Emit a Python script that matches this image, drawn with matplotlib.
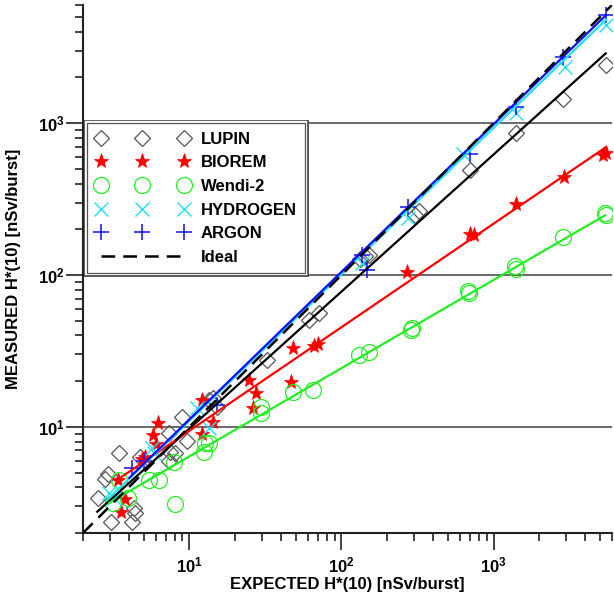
import numpy as np
import matplotlib
matplotlib.use("Agg")
import matplotlib.pyplot as plt
from matplotlib.lines import Line2D
from matplotlib.ticker import LogLocator, FuncFormatter, NullFormatter
import matplotlib.patheffects as pe

plt.rcParams['font.family'] = ['Liberation Sans', 'DejaVu Sans']
plt.rcParams['font.weight'] = 'bold'
plt.rcParams['mathtext.fontset'] = 'custom'
plt.rcParams['mathtext.rm'] = 'Liberation Sans:bold'
plt.rcParams['mathtext.bf'] = 'Liberation Sans:bold'
plt.rcParams['mathtext.it'] = 'Liberation Sans:bold:italic'

# ---------------- data ----------------
lupin_x = [2.51, 2.80, 2.93, 3.07, 3.46, 4.22, 4.35, 4.41, 4.77, 7.4, 7.5, 8.1, 7.39,
           9.0, 9.7, 13.5, 14.2, 15.3, 32.5, 61.5, 71.6, 132, 142, 152, 305, 322,
           695, 1413, 2845, 5460]
lupin_y = [3.41, 4.55, 4.91, 2.37, 6.74, 2.37, 2.93, 2.72, 6.36, 5.97, 6.85, 6.75, 9.13,
           11.6, 8.09, 15.1, 15.5, 13.5, 27.6, 50.5, 56, 128, 133, 135, 248, 262,
           491, 859, 1440, 2410]

biorem_x = [3.41, 3.57, 3.8, 4.9, 5.1, 5.8, 6.06, 6.25, 12.2, 12.2, 14.2, 24.8, 26.1,
            27.5, 46.8, 48.3, 66.4, 70, 268, 700, 740, 1413, 2880, 5210, 5460]
biorem_y = [4.45, 2.74, 3.36, 6.16, 6.3, 8.86, 7.73, 10.6, 9.0, 15.0, 10.8, 20.4, 13.3,
            16.7, 19.8, 33.1, 34.1, 35, 105, 186, 183, 293, 441, 615, 640]

wendi_x = [3.15, 3.46, 3.95, 5.45, 6.3, 7.9, 8.1, 12.4, 12.7, 13.5, 29.6, 29.6,
           47.7, 64.6, 131, 151, 288, 292, 675, 690, 1374, 1400, 2845, 5400, 5460]
wendi_y = [3.16, 4.5, 3.4, 4.5, 4.5, 5.9, 3.1, 6.85, 7.85, 7.85, 13.5, 12.4,
           17.0, 17.5, 29.8, 31.0, 43.5, 45.0, 79, 76, 115, 110, 178, 256, 248]

hydrogen_x = [2.98, 3.2, 5.7, 5.9, 11.3, 13.5, 137, 272, 626, 1413, 2930, 5460]
hydrogen_y = [3.68, 3.4, 7.3, 6.7, 13.3, 9.85, 120, 237, 630, 1164, 2336, 4420]

argon_x = [4.22, 5.06, 15.3, 137, 148, 272, 695, 1413, 2850, 5460]
argon_y = [5.37, 5.97, 14.0, 135, 108, 280, 630, 1273, 2717, 5130]

# power-law fits  y = a * x**b, drawn over [xmin, xmax]
lupin_fit = (1.216, 0.903, 2.48, 5460)
biorem_fit = (1.96, 0.682, 3.36, 5460)
wendi_fit = (1.677, 0.581, 2.98, 5400)
hydrogen_fit = (1.19, 0.9646, 2.89, 5460)
argon_fit = (1.19, 0.9726, 4.03, 5460)
ideal_x = [2, 6000]

labels = ['LUPIN', 'BIOREM', 'Wendi-2', 'HYDROGEN', 'ARGON', 'Ideal']

# ---------------- styles ----------------
c_lupin_m = '#555555'
c_red = '#ff0000'
c_green = '#22ee22'
c_cyan = '#22e0f0'
c_blue = '#1010ff'

st_lupin = dict(marker='D', ms=8.5, mfc='none', mec=c_lupin_m, mew=0.9)
st_biorem = dict(marker='*', ms=11, mfc=c_red, mec=c_red, mew=0.5)
st_wendi = dict(marker='o', ms=11.5, mfc='none', mec=c_green, mew=0.9)
st_hyd = dict(marker='x', ms=10, mec=c_cyan, mew=1.0)
st_argon = dict(marker='+', ms=12, mec=c_blue, mew=1.1)

fig = plt.figure(figsize=(6.14, 6.01), dpi=100)
ax = fig.add_axes([83/614, 68/601, 529/614, 528/601])
ax.set_xscale('log')
ax.set_yscale('log')
ax.set_xlim(2, 6000)
ax.set_ylim(2, 6000)

# grid lines (horizontal only at decades)
for v in [10, 100, 1000]:
    ax.axhline(v, color='#404040', lw=1.1, zorder=1)

ax.plot(lupin_x, lupin_y, ls='none', zorder=3, **st_lupin)
ax.plot(biorem_x, biorem_y, ls='none', zorder=3, **st_biorem)
ax.plot(wendi_x, wendi_y, ls='none', zorder=3, **st_wendi)
ax.plot(hydrogen_x, hydrogen_y, ls='none', zorder=3, **st_hyd)
ax.plot(argon_x, argon_y, ls='none', zorder=3, **st_argon)

def fitline(fit, color):
    a, b, x0, x1 = fit
    xs = np.array([x0, x1])
    ax.plot(xs, a * xs ** b, color=color, lw=1.6, zorder=4)

fitline(lupin_fit, 'black')
fitline(biorem_fit, c_red)
fitline(wendi_fit, c_green)
fitline(hydrogen_fit, c_cyan)
fitline(argon_fit, c_blue)
ax.plot(ideal_x, ideal_x, color='black', lw=1.8, ls=(0, (5.5, 3.2)), zorder=5)

# axes styling
for s in ['top', 'right']:
    ax.spines[s].set_visible(False)
for s in ['left', 'bottom']:
    ax.spines[s].set_linewidth(1.5)
    ax.spines[s].set_color('#222222')

fmt = FuncFormatter(lambda v, p: r'$\mathbf{10^{%d}}$' % int(round(np.log10(v))))
for axis in [ax.xaxis, ax.yaxis]:
    axis.set_major_locator(LogLocator(base=10, numticks=10))
    axis.set_minor_locator(LogLocator(base=10, subs=np.arange(2, 10), numticks=20))
    axis.set_major_formatter(fmt)
    axis.set_minor_formatter(NullFormatter())
ax.tick_params(which='major', direction='out', length=12, width=1.2, color='#222222',
               labelsize=12)
ax.tick_params(which='minor', direction='out', length=6, width=1.2, color='#222222')
ax.tick_params(axis='y', which='major', pad=1)
ax.tick_params(axis='x', which='major', pad=4)

ax.set_xlabel('EXPECTED H*(10) [nSv/burst]', fontsize=12, fontweight='bold', labelpad=1)
ax.set_ylabel('MEASURED H*(10) [nSv/burst]', fontsize=12, fontweight='bold')
ax.yaxis.set_label_coords(-0.118, 0.5)

# legend
handles = [
    Line2D([], [], ls='none', **st_lupin),
    Line2D([], [], ls='none', **st_biorem),
    Line2D([], [], ls='none', **st_wendi),
    Line2D([], [], ls='none', **st_hyd),
    Line2D([], [], ls='none', **st_argon),
    Line2D([], [], color='black', lw=1.8, ls=(0, (5.5, 3.2))),
]
leg = ax.legend(handles, labels, loc='upper left', bbox_to_anchor=(0.008, 0.776),
                borderaxespad=0, numpoints=3, handlelength=5.6, handletextpad=0.7,
                labelspacing=0.52, borderpad=0.5, frameon=True,
                fancybox=False, prop={'weight': 'bold', 'size': 12})
fr = leg.get_frame()
fr.set_edgecolor('#555555')
fr.set_linewidth(0.9)
fr.set_facecolor('white')
fr.set_alpha(1)
fr.set_path_effects([pe.Stroke(linewidth=5.0, foreground='#555555'),
                     pe.Stroke(linewidth=3.0, foreground='white'),
                     pe.Normal()])
leg.set_zorder(10)

fig.savefig('out.png', dpi=100)
